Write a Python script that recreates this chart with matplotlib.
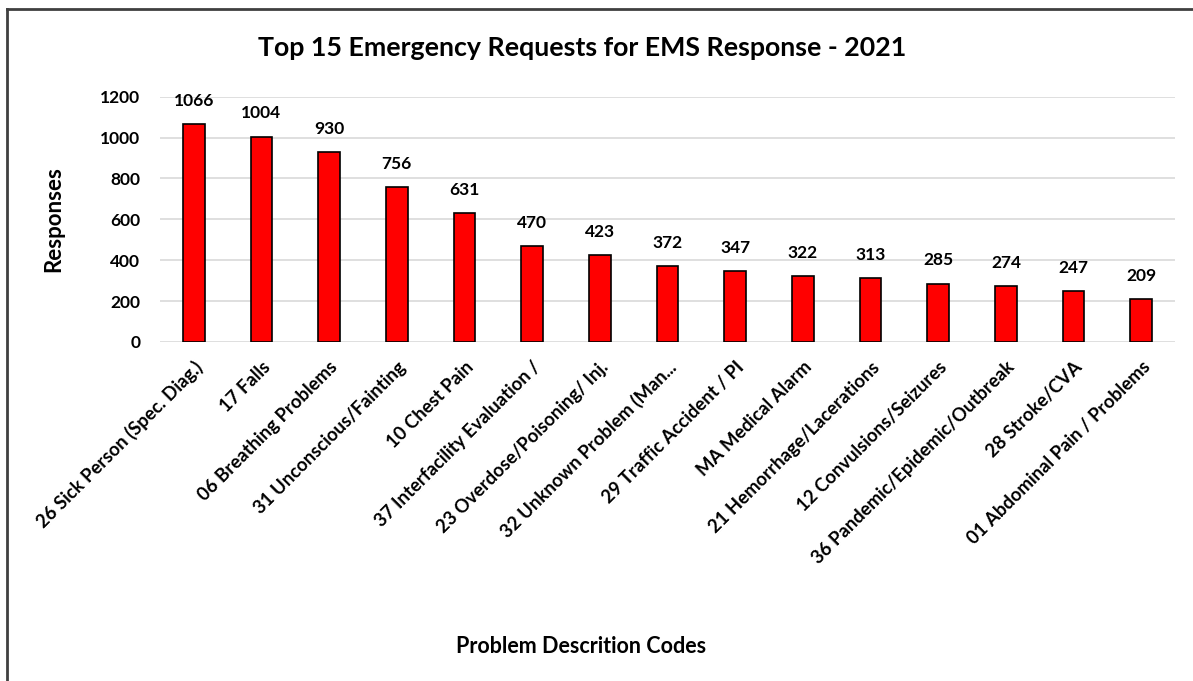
import numpy as np
import matplotlib.pyplot as plt
from matplotlib.lines import Line2D

# data
codes = ["26 Sick Person (Spec. Diag.)", "17 Falls", "06 Breathing Problems",
         "31 Unconscious/Fainting", "10 Chest Pain", "37 Interfacility Evaluation /",
         "23 Overdose/Poisoning/ Inj.", "32 Unknown Problem (Man...",
         "29 Traffic Accident / PI", "MA Medical Alarm", "21 Hemorrhage/Lacerations",
         "12 Convulsions/Seizures", "36 Pandemic/Epidemic/Outbreak", "28 Stroke/CVA",
         "01 Abdominal Pain / Problems"]
responses = [1066, 1004, 930, 756, 631, 470, 423, 372, 347, 322, 313, 285, 274, 247, 209]
y_ticks = [0, 200, 400, 600, 800, 1000, 1200]

plt.rcParams['font.family'] = ['Lato', 'DejaVu Sans']
plt.rcParams['font.weight'] = 'bold'

fig = plt.figure(figsize=(11.93, 6.81), dpi=100)
ax = fig.add_axes([0.134, 0.498, 0.851, 0.360])

x = np.arange(len(codes))
ax.bar(x, responses, width=0.32, color='#ff0000', edgecolor='black', linewidth=1.2, zorder=3)
for xi, v in zip(x, responses):
    ax.annotate(str(v), (xi, v), xytext=(0, 11), textcoords='offset points',
                ha='center', va='bottom', fontsize=12.5, fontweight='bold')

ax.set_xlim(-0.5, len(codes) - 0.5)
ax.set_ylim(0, 1200)
ax.set_yticks(y_ticks)
ax.tick_params(axis='y', length=0, labelsize=12.5, pad=14)
ax.tick_params(axis='x', length=0, pad=12)
ax.set_xticks(x)
ax.set_xticklabels(codes, rotation=45, ha='right', rotation_mode='anchor',
                   fontsize=13.3, fontweight='bold')
ax.grid(axis='y', color='#d9d9d9', linewidth=1.2, zorder=0)
for s in ax.spines.values():
    s.set_visible(False)

ax.set_ylabel("Responses", fontsize=16, fontweight='bold', labelpad=26)
fig.text(0.487, 0.05, "Problem Descrition Codes", ha='center', va='center',
         fontsize=15.5, fontweight='bold')
fig.text(0.488, 0.93, "Top 15 Emergency Requests for EMS Response - 2021",
         ha='center', va='center', fontsize=19.3, fontweight='bold')

# chart frame (left and top edges)
fig.add_artist(Line2D([7/1193, 7/1193], [0, 1 - 9/681], color='#404040', linewidth=2))
fig.add_artist(Line2D([7/1193, 1], [1 - 9/681, 1 - 9/681], color='#404040', linewidth=2))

fig.savefig("out.png", dpi=100)
